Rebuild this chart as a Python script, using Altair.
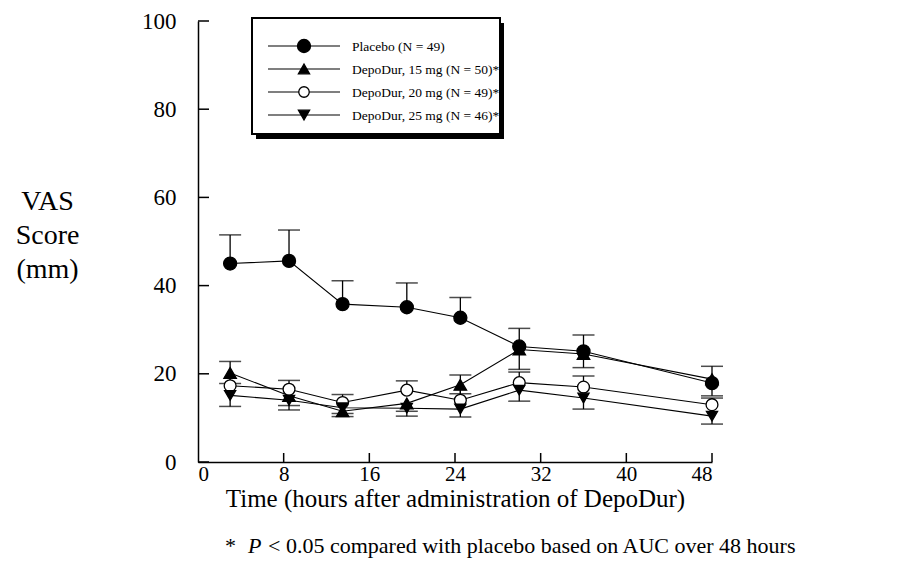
import altair as alt
import pandas as pd

# ---------------- data ----------------
times = [3, 8.5, 13.5, 19.5, 24.5, 30, 36, 48]
series_names = [
    "Placebo (N = 49)",
    "DepoDur, 15 mg (N = 50)*",
    "DepoDur, 20 mg (N = 49)*",
    "DepoDur, 25 mg (N = 46)*",
]
placebo = [45.0, 45.6, 35.8, 35.1, 32.7, 26.2, 25.1, 17.9]
placebo_err = [51.5, 52.6, 41.1, 40.6, 37.3, 30.3, 28.8, 21.7]
dd15 = [20.2, 15.0, 11.5, 13.3, 17.5, 25.5, 24.5, 18.8]
dd15_err = [17.8, 12.8, 10.3, 11.5, 15.5, 21.0, 21.4, 15.0]
dd20 = [17.3, 16.5, 13.5, 16.3, 14.0, 18.0, 17.0, 13.0]
dd20_err = [22.8, 18.5, 15.3, 18.4, 19.7, 20.4, 19.5, 14.5]
dd25 = [15.1, 14.0, 12.3, 12.2, 12.0, 16.3, 14.5, 10.4]
dd25_err = [12.6, 11.8, 11.0, 10.4, 10.2, 13.8, 12.0, 8.6]
x_ticks = [0, 8, 16, 24, 32, 40, 48]
y_ticks = [0, 20, 40, 60, 80, 100]
shapes = ["circle", "triangle-up", "circle", "triangle-down"]
fills = ["black", "black", "white", "black"]
sizes = [170, 125, 110, 125]

vals = [placebo, dd15, dd20, dd25]
errs = [placebo_err, dd15_err, dd20_err, dd25_err]
rows = []
for name, v, e in zip(series_names, vals, errs):
    for t, a, b in zip(times, v, e):
        rows.append({"series": name, "t": t, "val": a, "err": b})
df = pd.DataFrame(rows)

# ---------------- layout ----------------
W, H = 514, 441
FONT = "Liberation Serif"

xs = alt.Scale(domain=[0, 48], nice=False)
ys = alt.Scale(domain=[0, 100], nice=False)
xaxis = alt.Axis(values=x_ticks, ticks=False, grid=False, domainColor="black",
                 domainWidth=1.5, labelFont=FONT, labelFontSize=21, labelColor="black",
                 labelPadding=1, title="Time (hours after administration of DepoDur)",
                 titleFont=FONT, titleFontSize=25, titleFontWeight="normal",
                 titleColor="black", titleBaseline="alphabetic", titleY=44)
yaxis = alt.Axis(values=y_ticks, ticks=False, grid=False, domainColor="black",
                 domainWidth=1.5, labelFont=FONT, labelFontSize=23, labelColor="black",
                 labelPadding=22, title=["VAS", "Score", "(mm)"], titleAngle=0,
                 titleAlign="center", titleBaseline="top", titleX=-151, titleY=166,
                 titleFont=FONT, titleFontSize=28, titleFontWeight="normal",
                 titleColor="black", titleLineHeight=34)


def X(f):
    return alt.X(f, type="quantitative", scale=xs, axis=xaxis)


def Y(f):
    return alt.Y(f, type="quantitative", scale=ys, axis=yaxis)


base = alt.Chart(df)
lines = base.mark_line(color="black", strokeWidth=1.1).encode(
    x=X("t"), y=Y("val"), detail="series:N")
bars = base.mark_rule(color="black", strokeWidth=1.3).encode(
    x=X("t"), y=Y("val"), y2="err")
caps = base.mark_tick(orient="horizontal", size=22, thickness=1.5, color="black").encode(
    x=X("t"), y=Y("err"))
points = base.mark_point(filled=True, opacity=1, stroke="black", strokeWidth=1.3).encode(
    x=X("t"), y=Y("val"),
    shape=alt.Shape("series:N", scale=alt.Scale(domain=series_names, range=shapes), legend=None),
    fill=alt.Fill("series:N", scale=alt.Scale(domain=series_names, range=fills), legend=None),
    size=alt.Size("series:N", scale=alt.Scale(domain=series_names, range=sizes), legend=None),
)

ytick_df = pd.DataFrame({"v": y_ticks})
xtick_df = pd.DataFrame({"v": x_ticks[1:]})
yticks = alt.Chart(ytick_df).mark_rule(color="black", strokeWidth=1.5).encode(
    y=Y("v"), x=alt.value(0), x2=alt.value(11))
xticks = alt.Chart(xtick_df).mark_rule(color="black", strokeWidth=1.5).encode(
    x=X("v"), y=alt.value(H), y2=alt.value(H - 9))

# ---------------- legend ----------------
one = pd.DataFrame({"a": [0]})
lx0, lx1, ly0, ly1 = 54, 302, -3, 113
shadow = alt.Chart(one).mark_rect(fill="black").encode(
    x=alt.value(lx0 + 4), x2=alt.value(lx1 + 4), y=alt.value(ly0 + 5), y2=alt.value(ly1 + 5))
box = alt.Chart(one).mark_rect(fill="white", stroke="black", strokeWidth=2).encode(
    x=alt.value(lx0), x2=alt.value(lx1), y=alt.value(ly0), y2=alt.value(ly1))
legend_layers = [shadow, box]
for i, name in enumerate(series_names):
    yy = 25 + 23 * i
    d = pd.DataFrame({"label": [name]})
    legend_layers.append(alt.Chart(d).mark_rule(color="black", strokeWidth=1.2).encode(
        x=alt.value(70), x2=alt.value(142), y=alt.value(yy)))
    legend_layers.append(alt.Chart(d).mark_point(
        filled=True, opacity=1, shape=shapes[i], fill=fills[i], stroke="black",
        strokeWidth=1.3, size=sizes[i]).encode(x=alt.value(106), y=alt.value(yy)))
    legend_layers.append(alt.Chart(d).mark_text(
        align="left", baseline="middle", font=FONT, fontSize=13.5, color="black").encode(
        x=alt.value(154), y=alt.value(yy + 1), text="label:N"))

# ---------------- footnote ----------------
foot = [
    alt.Chart(pd.DataFrame({"s": ["*"]})).mark_text(
        align="left", baseline="alphabetic", font=FONT, fontSize=22, color="black").encode(
        x=alt.value(27), y=alt.value(532), text="s:N"),
    alt.Chart(pd.DataFrame({"s": ["P"]})).mark_text(
        align="left", baseline="alphabetic", font=FONT, fontSize=22, fontStyle="italic",
        color="black").encode(x=alt.value(50), y=alt.value(532), text="s:N"),
    alt.Chart(pd.DataFrame({"s": ["< 0.05 compared with placebo based on AUC over 48 hours"]})).mark_text(
        align="left", baseline="alphabetic", font=FONT, fontSize=22, color="black").encode(
        x=alt.value(70), y=alt.value(532), text="s:N"),
]

chart = alt.layer(lines, bars, caps, yticks, xticks, points, *legend_layers, *foot).properties(
    width=W, height=H,
    padding={"left": 190, "top": 13, "right": 186, "bottom": 105},
    autosize=alt.AutoSizeParams(type="none"),
).configure_view(stroke=None)

chart.save("out.html", embed_options={"renderer": "svg", "actions": False})
